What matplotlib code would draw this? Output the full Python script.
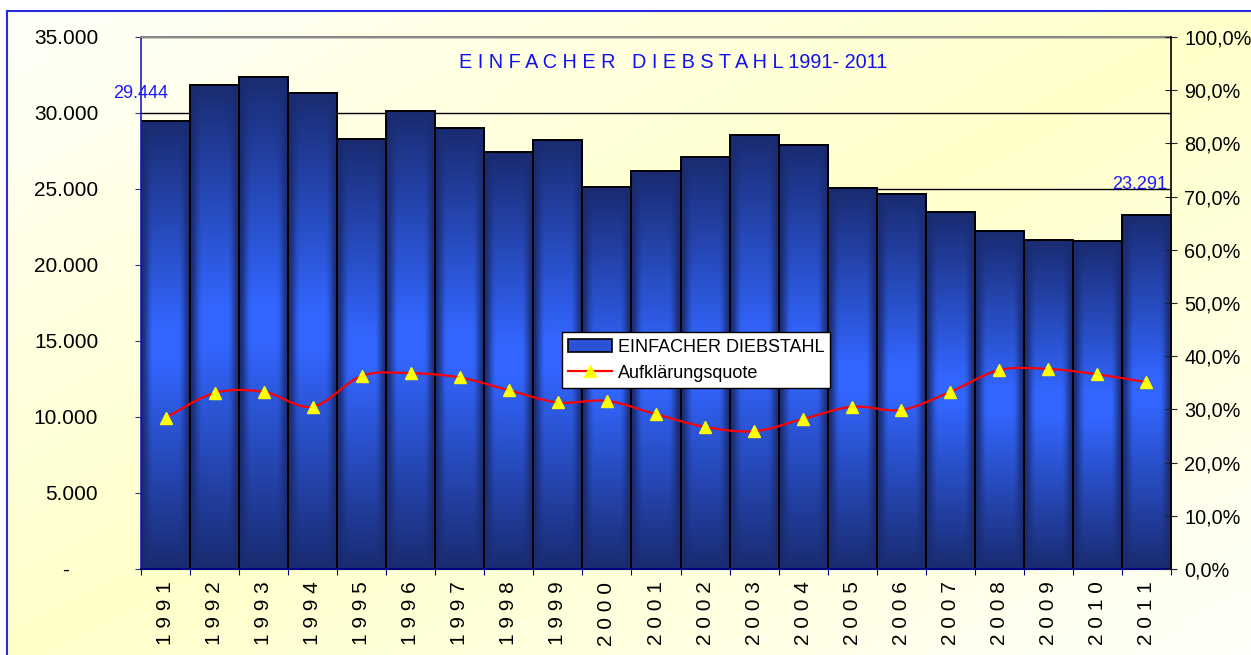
import numpy as np
import matplotlib
matplotlib.use("Agg")
import matplotlib.pyplot as plt
from matplotlib.path import Path
from matplotlib.patches import PathPatch, Rectangle
from matplotlib.lines import Line2D
from matplotlib.ticker import FixedLocator, FuncFormatter

plt.rcParams['font.family'] = ['Liberation Sans', 'DejaVu Sans']

# --- data ---
years = [1991, 1992, 1993, 1994, 1995, 1996, 1997, 1998, 1999, 2000, 2001,
         2002, 2003, 2004, 2005, 2006, 2007, 2008, 2009, 2010, 2011]
faelle = [29444, 31860, 32370, 31330, 28310, 30110, 29030, 27410, 28220, 25110,
          26180, 27100, 28530, 27910, 25090, 24690, 23470, 22260, 21660, 21560, 23291]
quote = [28.4, 33.1, 33.3, 30.5, 36.3, 36.8, 36.0, 33.6, 31.3, 31.6, 29.1,
         26.7, 25.9, 28.2, 30.5, 29.9, 33.3, 37.4, 37.6, 36.6, 35.1]
title = "E I N F A C H E R   D I E B S T A H L 1991- 2011"
bar_label = "EINFACHER DIEBSTAHL"
line_label = "Aufklärungsquote"

W, H = 1251, 655
fig = plt.figure(figsize=(W / 100, H / 100), dpi=100, facecolor='white')

# hintergrund: diagonaler verlauf gelb/weiss mit blauem rahmen oben und links
bg = fig.add_axes([7 / W, 0, 1 - 7 / W, 1 - 11 / H], zorder=-5)
gx, gy = np.meshgrid(np.linspace(0, 1, 300), np.linspace(0, 1, 160))
s = np.abs(gx + gy - 1)[..., None]
yellow = np.array([1.0, 1.0, 0.79])
white = np.array([1.0, 1.0, 0.98])
bg.imshow(yellow + (white - yellow) * s, aspect='auto', extent=(0, 1, 1, 0),
          interpolation='bilinear')
bg.set_xlim(0, 1)
bg.set_ylim(1, 0)
bg.set_xticks([])
bg.set_yticks([])
for side in ['right', 'bottom']:
    bg.spines[side].set_visible(False)
for side in ['top', 'left']:
    bg.spines[side].set_color('#2a2ae0')
    bg.spines[side].set_linewidth(1.5)

# haupt-achsen
ax = fig.add_axes([141 / W, 1 - 569 / H, (1171 - 141) / W, (569 - 37) / H])
ax.patch.set_visible(False)
x = np.arange(len(years))


def smooth(a):
    a = np.clip(a, 0, 1)
    return a * a * (3 - 2 * a)


# balken mit verlauf (dunkel oben/unten und an den raendern, hell in der mitte)
edge_c = np.array([0.10, 0.17, 0.44])
center_c = np.array([0.20, 0.40, 1.00])
u, v = np.meshgrid(np.linspace(0, 1, 80), np.linspace(0, 1, 300))
fh = smooth((1 - np.abs(2 * u - 1)) / 0.5)
fv = np.clip(1.08 * (1 - np.abs(2 * v - 1)), 0, 1)
k = (fh * fv)[..., None]
grad = edge_c + (center_c - edge_c) * k
for xi, val in zip(x, faelle):
    ax.imshow(grad, extent=(xi - 0.5, xi + 0.5, 0, val), aspect='auto',
              interpolation='bilinear', zorder=1.5)
ax.bar(x, faelle, width=1.0, fill=False, edgecolor='black', linewidth=1.4, zorder=2)

ax.set_xlim(-0.5, len(years) - 0.5)
ax.set_ylim(0, 35000)
ax.set_yticks(np.arange(0, 35001, 5000))
ax.yaxis.set_major_formatter(FuncFormatter(
    lambda val, pos: "-     " if val == 0 else f"{val:,.0f}".replace(',', '.')))
ax.set_axisbelow(True)
ax.yaxis.grid(True, color='black', linewidth=1)
ax.tick_params(axis='y', direction='out', length=4.3, color='#33337a',
               labelsize=15, pad=26.5)

# x-achse: striche an balkengrenzen, jahreszahlen senkrecht dazwischen
ax.xaxis.set_major_locator(FixedLocator(np.arange(-0.5, len(years), 1.0)))
ax.xaxis.set_major_formatter(FuncFormatter(lambda val, pos: ""))
ax.xaxis.set_minor_locator(FixedLocator(x))
ax.set_xticklabels([" ".join(str(y)) for y in years], minor=True)
ax.tick_params(axis='x', which='major', direction='out', length=4.3, color='#000080')
ax.tick_params(axis='x', which='minor', length=0, labelsize=15, pad=9,
               labelrotation=90)

ax.spines['left'].set_color('#1a1acc')
ax.spines['left'].set_linewidth(1.2)
ax.spines['bottom'].set_color('#000080')
ax.spines['bottom'].set_linewidth(1.5)
ax.spines['top'].set_color('#888888')
ax.spines['top'].set_linewidth(1.5)
ax.spines['right'].set_visible(False)

# werte am ersten und letzten balken
ax.annotate(f"{faelle[0]:,}".replace(',', '.'), xy=(x[0] - 0.5, faelle[0]),
            xytext=(0, 17), textcoords='offset points', ha='center',
            va='baseline', color='#1a1aff', fontsize=13, zorder=3)
ax.annotate(f"{faelle[-1]:,}".replace(',', '.'), xy=(x[-1] + 0.5, faelle[-1]),
            xytext=(-3, 19), textcoords='offset points', ha='right',
            va='baseline', color='#1a1aff', fontsize=13, zorder=3)

# rechte achse: aufklaerungsquote
ax2 = ax.twinx()
ax2.patch.set_visible(False)
ax2.set_ylim(0, 100)
ax2.set_yticks(np.arange(0, 101, 10))
ax2.yaxis.set_major_formatter(FuncFormatter(lambda val, pos: f"{val:.1f}%".replace('.', ',')))
ax2.tick_params(axis='y', direction='inout', length=8, color='#222222',
                labelsize=14.3, pad=5.6)
for side in ['left', 'top', 'bottom']:
    ax2.spines[side].set_visible(False)
ax2.spines['right'].set_color('black')
ax2.spines['right'].set_linewidth(1.2)

# geglaettete linie (catmull-rom als bezier-kurve)
pts = np.column_stack([x, quote]).astype(float)
ext = np.vstack([pts[0], pts, pts[-1]])
verts = [tuple(pts[0])]
codes = [Path.MOVETO]
for i in range(len(pts) - 1):
    p0, p1, p2, p3 = ext[i], ext[i + 1], ext[i + 2], ext[i + 3]
    c1 = p1 + (p2 - p0) / 6
    c2 = p2 - (p3 - p1) / 6
    verts += [tuple(c1), tuple(c2), tuple(p2)]
    codes += [Path.CURVE4] * 3
ax2.add_patch(PathPatch(Path(verts, codes), fill=False, edgecolor='#ff0000',
                        linewidth=1.6, zorder=3))
ax2.plot(x, quote, linestyle='none', marker='^', markersize=8.5,
         markerfacecolor='#ffff00', markeredgecolor='#ffff00', zorder=4)

# titel
fig.text(459 / W, 1 - 62 / H, title, color='#1010f0', fontsize=14.3,
         ha='left', va='center')

# legende
handles = [Rectangle((0, 0), 1, 1, facecolor='#2c52d6', edgecolor='black', linewidth=1.2),
           Line2D([], [], color='#ff0000', linewidth=1.6, marker='^', markersize=8.5,
                  markerfacecolor='#ffff00', markeredgecolor='#ffff00')]
leg = ax2.legend(handles, [bar_label, line_label], loc='lower left',
                 bbox_to_anchor=(562 / W, 1 - 388 / H, 268 / W, 61 / H),
                 bbox_transform=fig.transFigure, mode='expand', fontsize=13,
                 frameon=True, fancybox=False, framealpha=1, edgecolor='black',
                 numpoints=1, handlelength=2.4, handletextpad=0.35,
                 borderpad=0.35, labelspacing=0.5, borderaxespad=0)
leg.get_frame().set_linewidth(1.0)
leg.set_zorder(10)

fig.savefig("out.png", dpi=100)
